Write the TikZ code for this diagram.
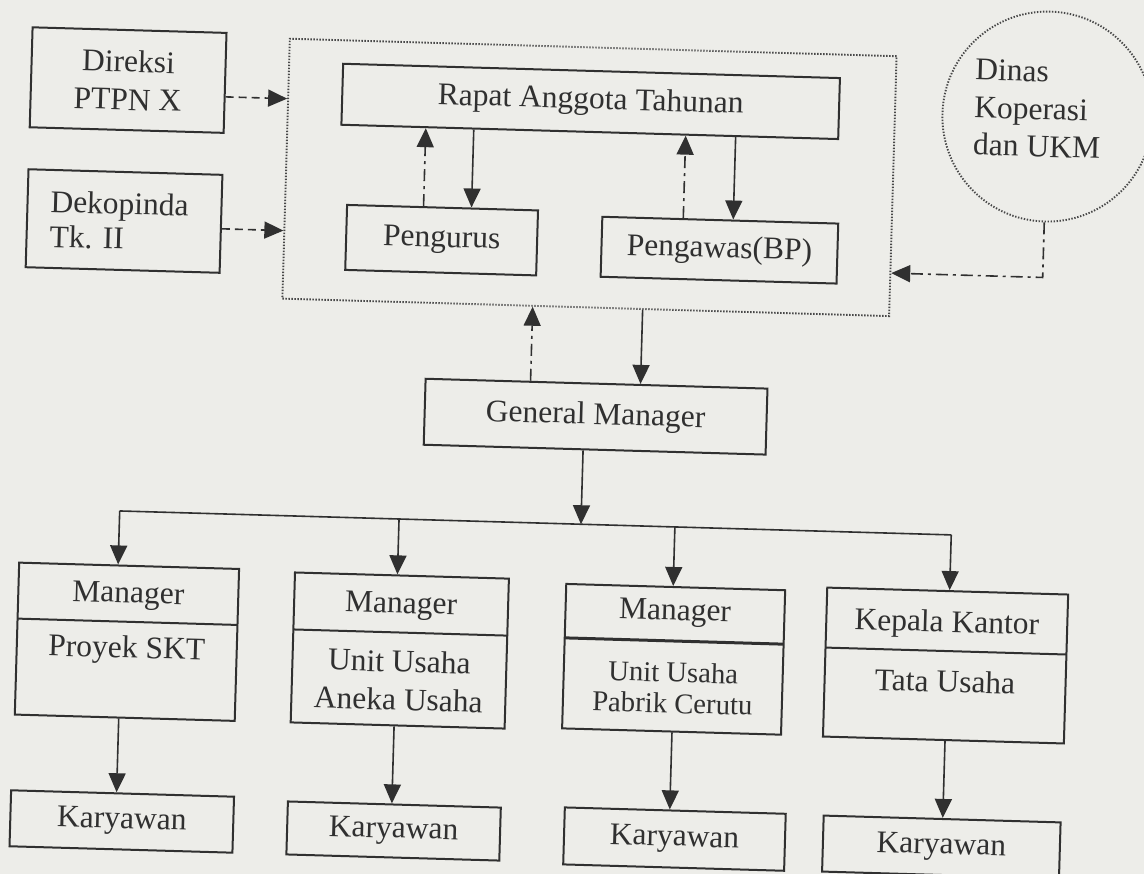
\documentclass[tikz,border=0pt]{standalone}
\usepackage{fontspec}
\setmainfont{Liberation Serif}
\usetikzlibrary{arrows.meta}
\definecolor{ink}{HTML}{303030}
\definecolor{paper}{HTML}{EDEDE9}
\definecolor{dotc}{HTML}{484848}
\frenchspacing
\begin{document}
\begin{tikzpicture}[x=1pt,y=-1pt,
  font=\fontsize{31.5}{38}\selectfont,
  every node/.style={text=ink},
  box/.style={draw=ink,line width=2pt,inner sep=0pt},
  lbl/.style={inner sep=0pt},
  conn/.style={draw=ink,line width=1.6pt},
  arr/.style={conn,-{Triangle[length=19pt,width=17pt]}},
  dasharr/.style={arr,dash pattern=on 8pt off 5pt},
  dotarr/.style={arr,dash pattern=on 12pt off 5pt on 3pt off 5pt},
  dotbox/.style={draw=dotc,line width=1.9pt,dash pattern=on 1.4pt off 1.6pt,inner sep=0pt},
  divider/.style={draw=ink,line width=2pt}]
\useasboundingbox (0,0) rectangle (1144,874);
\fill[paper] (0,0) rectangle (1144,874);
\begin{scope}[rotate around={-1.65:(572,437)},transform shape]
  % top left
  \node[box,minimum width=194pt,minimum height=100pt,align=center] (direksi) at (118,93) {Direksi\\PTPN X};
  \node[box,minimum width=194pt,minimum height=98pt,text width=148pt,inner xsep=23pt,align=left,font=\fontsize{31.5}{35}\selectfont] (dekop) at (118,234) {Dekopinda\\Tk. II};
  % dotted organisation box
  \node[dotbox,minimum width=607pt,minimum height=260pt] (org) at (582,177) {};
  \node[box,minimum width=497pt,minimum height=61pt] (rat) at (581,101) {Rapat Anggota Tahunan};
  \node[box,minimum width=191pt,minimum height=65pt] (pengurus) at (436,244) {Pengurus};
  \node[box,minimum width=236pt,minimum height=60pt] (pengawas) at (714,246) {Pengawas(BP)};
  % Dinas circle
  \node[dotbox,circle,minimum size=210pt] (dinas) at (1038,103) {};
  \node[lbl,align=left,anchor=base west,font=\fontsize{31.5}{37.5}\selectfont] (dinastext) at (964.5,143.5) {Dinas\\Koperasi\\dan UKM};
  % general manager
  \node[box,minimum width=342pt,minimum height=66pt] (gm) at (595,416) {General Manager};
  % manager boxes
  \node[box,minimum width=220pt,minimum height=152pt] (m1) at (133,654.5) {};
  \draw[divider] (23,634.5) -- (243,634.5);
  \node[lbl,anchor=base] (m1a) at (133,615.5) {Manager};
  \node[lbl,anchor=base] (m1b) at (133,670.5) {Proyek SKT};

  \node[box,minimum width=214pt,minimum height=150pt] (m2) at (406,655.4) {};
  \draw[divider] (299,637.4) -- (513,637.4);
  \node[lbl,anchor=base] (m2a) at (406,617.9) {Manager};
  \node[lbl,anchor=base,align=center] (m2b) at (406,714.9) {Unit Usaha\\Aneka Usaha};

  \node[box,minimum width=219pt,minimum height=144.5pt] (m3) at (680,656.3) {};
  \draw[divider,line width=3pt] (570.5,638) -- (789.5,638);
  \node[lbl,anchor=base] (m3a) at (680,617) {Manager};
  \node[lbl,anchor=base,align=center,font=\fontsize{28.7}{31}\selectfont] (m3b) at (680,710) {Unit Usaha\\Pabrik Cerutu};

  \node[box,minimum width=241pt,minimum height=149pt] (m4) at (952,654.7) {};
  \draw[divider] (831.5,640.2) -- (1072.5,640.2);
  \node[lbl,anchor=base] (m4a) at (952,621.2) {Kepala Kantor};
  \node[lbl,anchor=base] (m4b) at (952,681.2) {Tata Usaha};
  % karyawan
  \node[box,minimum width=223pt,minimum height=56pt] (k1) at (133,834.3) {Karyawan};
  \node[box,minimum width=213pt,minimum height=53pt] (k2) at (405,836) {Karyawan};
  \node[box,minimum width=221pt,minimum height=57pt] (k3) at (686,836) {Karyawan};
  \node[box,minimum width=237pt,minimum height=56pt] (k4) at (953,836.2) {Karyawan};

  % connectors
  \draw[dasharr] ([yshift=-14pt]direksi.east) -- ([yshift=70pt]org.west);
  \draw[dasharr] ([yshift=-5pt]dekop.east) -- ([yshift=-62pt]org.west);
  \draw[dotarr] ([xshift=-19pt]pengurus.north) -- ([xshift=-164pt]rat.south);
  \draw[arr] ([xshift=-116pt]rat.south) -- ([xshift=29pt]pengurus.north);
  \draw[dotarr] ([xshift=-37pt]pengawas.north) -- ([xshift=96pt]rat.south);
  \draw[arr] ([xshift=146pt]rat.south) -- ([xshift=13pt]pengawas.north);
  \coordinate (dk) at (1038,264);
  \draw[dotarr] (dinas.south) -- (dk) -- ([yshift=-87pt]org.east);
  \draw[dotarr] ([xshift=-66pt]gm.north) -- ([xshift=-53pt]org.south);
  \draw[arr] ([xshift=57pt]org.south) -- ([xshift=44pt]gm.north);
  \coordinate (bus0) at (583.5,524);
  \coordinate (bus1) at (122,524);
  \coordinate (bus2) at (401.5,524);
  \coordinate (bus3) at (677.5,524);
  \coordinate (bus4) at (954,524);
  \draw[conn] (bus1) -- (bus4);
  \draw[arr] ([xshift=-11.5pt]gm.south) -- (bus0);
  \draw[arr] (bus1) -- ([xshift=-11pt]m1.north);
  \draw[arr] (bus2) -- ([xshift=-4.5pt]m2.north);
  \draw[arr] (bus3) -- ([xshift=-2.5pt]m3.north);
  \draw[arr] (bus4) -- ([xshift=2pt]m4.north);
  \draw[arr] ([xshift=-6pt]m1.south) -- ([xshift=-6pt]k1.north);
  \draw[arr] ([xshift=-3.5pt]m2.south) -- ([xshift=-2.5pt]k2.north);
  \draw[arr] ([xshift=0.5pt]m3.south) -- ([xshift=-5.5pt]k3.north);
  \draw[arr] ([xshift=1.7pt]m4.south) -- ([xshift=0.7pt]k4.north);
\end{scope}
\end{tikzpicture}
\end{document}
